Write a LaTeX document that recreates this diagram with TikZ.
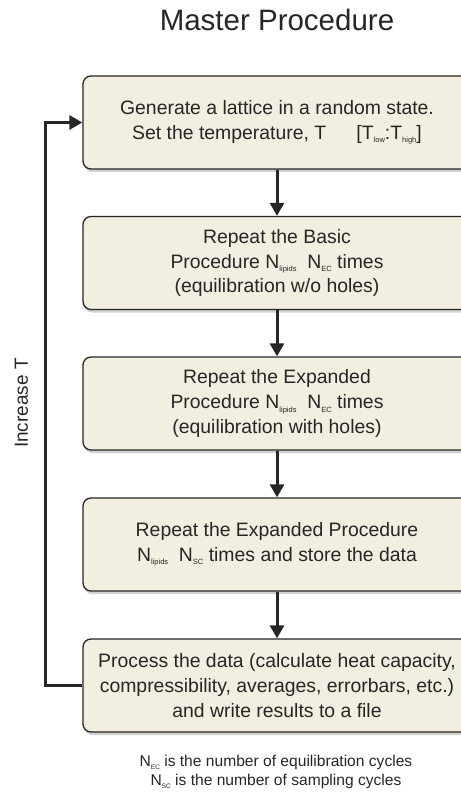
\documentclass[tikz,border=0pt]{standalone}
\usepackage{fontspec}
\setmainfont{Liberation Sans}
\usetikzlibrary{arrows.meta,shadows}
\definecolor{boxfill}{HTML}{F2EEE0}
\definecolor{ink}{HTML}{262626}
\newcommand{\sbx}[1]{\raisebox{-0.35ex}{\fontsize{7.5}{7.5}\selectfont #1}}
\newcommand{\sbn}[1]{\raisebox{-0.35ex}{\fontsize{6.5}{6.5}\selectfont #1}}
\tikzset{
  procbox/.style={draw=ink, line width=1.3pt, fill=boxfill, rounded corners=8pt,
    minimum width=388pt, minimum height=93pt, inner sep=0pt, align=center,
    text=ink, font=\fontsize{19.4}{24.6}\selectfont,
    drop shadow={shadow xshift=1pt, shadow yshift=-3pt, opacity=0.18, fill=black}},
  flow/.style={draw=ink, line width=3pt, -{Triangle[width=14pt,length=13pt]}},
}
\begin{document}
\begin{tikzpicture}[x=1pt,y=-1pt]
\useasboundingbox (0,0) rectangle (460,794);
\node[text=ink, font=\fontsize{29.5}{32}\selectfont, anchor=base] (title) at (277,31) {Master Procedure};
\node[procbox] (b1) at (277,122.5) {Generate a lattice in a random state.\\Set the temperature, T\quad\ \ [T\sbx{low}:T\sbx{high}]};
\node[procbox] (b2) at (277,263) {Repeat the Basic\\Procedure N\sbx{lipids}\ \ N\sbx{EC} times\\(equilibration w/o holes)};
\node[procbox] (b3) at (277,403.5) {Repeat the Expanded\\Procedure N\sbx{lipids}\ \ N\sbx{EC} times\\(equilibration with holes)};
\node[procbox] (b4) at (277,544.5) {Repeat the Expanded Procedure\\N\sbx{lipids}\ \ N\sbx{SC} times and store the data};
\node[procbox] (b5) at (277,685.5) {Process the data (calculate heat capacity,\\compressibility, averages, errorbars, etc.)\\and write results to a file};
\draw[flow] (b1) -- (b2);
\draw[flow] (b2) -- (b3);
\draw[flow] (b3) -- (b4);
\draw[flow] (b4) -- (b5);
\coordinate (lb) at (45,685.5);
\coordinate (lt) at (45,122.5);
\draw[flow, line join=miter] (b5.west) -- (lb) -- (lt) -- (b1.west);
\node[text=ink, font=\fontsize{19}{22}\selectfont, rotate=90] (inc) at (21.5,403) {Increase T};
\node[text=ink, font=\fontsize{15.6}{19.5}\selectfont, align=center] (note) at (276,772) {N\sbn{EC} is the number of equilibration cycles\\N\sbn{SC} is the number of sampling cycles};
\end{tikzpicture}
\end{document}
